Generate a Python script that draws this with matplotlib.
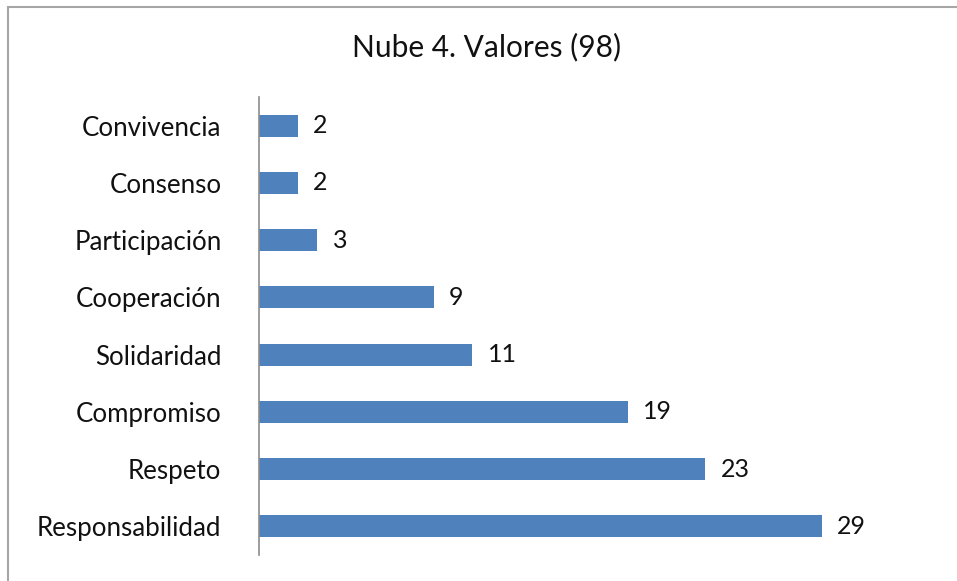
import matplotlib.pyplot as plt
from matplotlib.patches import Rectangle

categorias = ["Responsabilidad", "Respeto", "Compromiso", "Solidaridad",
              "Cooperación", "Participación", "Consenso", "Convivencia"]
valores = [29, 23, 19, 11, 9, 3, 2, 2]
titulo = "Nube 4. Valores (98)"

plt.rcParams['font.family'] = ['Lato', 'DejaVu Sans']

fig = plt.figure(figsize=(9.57, 5.81), dpi=100)
# marco gris del grafico
fig.patches.append(Rectangle((8/957, -0.1), 1.2, 1 - 7/581 + 0.1, transform=fig.transFigure,
                             fill=False, edgecolor='#a6a6a6', linewidth=1.5))

ax = fig.add_axes([259/957, 1 - 555/581, 679/957, 458/581])
ypos = range(len(categorias))
ax.barh(ypos, valores, height=0.38, color='#4f81bd')
for y, v in zip(ypos, valores):
    ax.text(v + 0.8, y, str(v), va='center', ha='left', fontsize=18, color='#111111')

ax.set_xlim(0, 35)
ax.set_ylim(-0.5, len(categorias) - 0.5)
ax.set_yticks(list(ypos))
ax.set_yticklabels(categorias, fontsize=18.6, color='#111111')
ax.tick_params(axis='y', length=0, pad=27)
ax.set_xticks([])
for s in ['top', 'right', 'bottom']:
    ax.spines[s].set_visible(False)
ax.spines['left'].set_color('#8c8c8c')
ax.spines['left'].set_linewidth(1.2)

fig.text(487/957, 1 - 47/581, titulo, ha='center', va='center', fontsize=21.5, color='#111111')

fig.savefig("out.png", dpi=100)
